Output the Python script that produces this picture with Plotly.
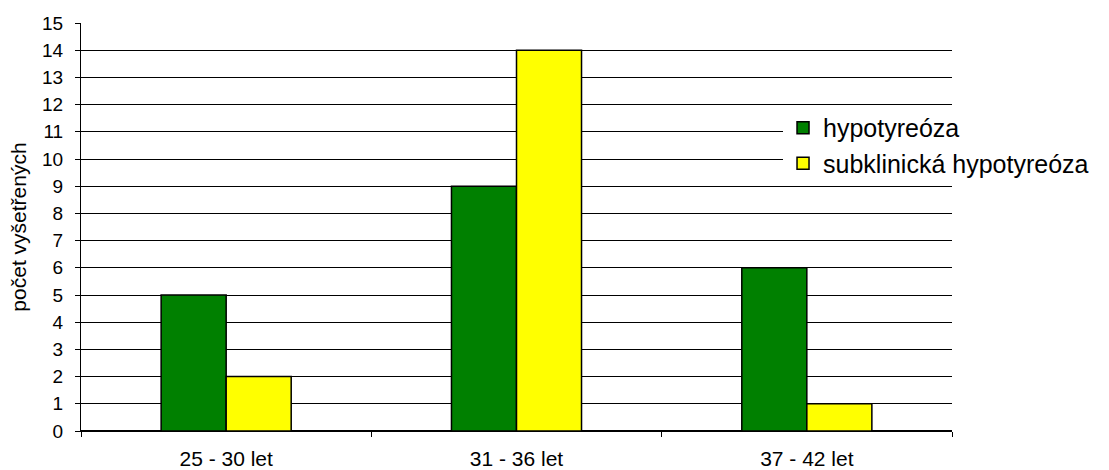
import plotly.graph_objects as go

categories = ["25 - 30 let", "31 - 36 let", "37 - 42 let"]
hypotyreoza = [5, 9, 6]
subklinicka = [2, 14, 1]
y_ticks = list(range(0, 16))

fig = go.Figure()
fig.add_trace(go.Bar(
    x=categories, y=hypotyreoza, name="hypotyreóza",
    marker=dict(color="#008000", line=dict(color="#000000", width=1.5)),
))
fig.add_trace(go.Bar(
    x=categories, y=subklinicka, name="subklinická hypotyreóza",
    marker=dict(color="#FFFF00", line=dict(color="#000000", width=1.5)),
))

fig.update_layout(
    width=1109, height=470,
    margin=dict(l=81, r=157, t=23, b=39, autoexpand=False),
    paper_bgcolor="white", plot_bgcolor="white",
    font=dict(family="Liberation Sans, Arial, sans-serif", size=19, color="#000000"),
    barmode="group", bargap=0.552, bargroupgap=0,
    showlegend=True,
    legend=dict(
        x=0.806, xanchor="left", y=0.70, yanchor="middle",
        bgcolor="white", font=dict(size=25),
        itemwidth=30,
    ),
    xaxis=dict(
        showline=True, linecolor="#000000", linewidth=1,
        ticks="outside", tickson="boundaries", ticklen=5, tickcolor="#000000",
        showgrid=False, tickfont=dict(size=21), ticklabelstandoff=9,
    ),
    yaxis=dict(
        range=[0, 15], tickvals=y_ticks, ticks="outside", ticklen=5,
        tickcolor="#000000", showline=True, linecolor="#000000", linewidth=1,
        showgrid=True, gridcolor="#000000", gridwidth=1,
        zeroline=True, zerolinecolor="#000000",
        title=dict(text="počet vyšetřených", font=dict(size=21), standoff=9),
        tickfont=dict(size=19), ticklabelstandoff=8,
    ),
)

fig.write_html("out.html")
